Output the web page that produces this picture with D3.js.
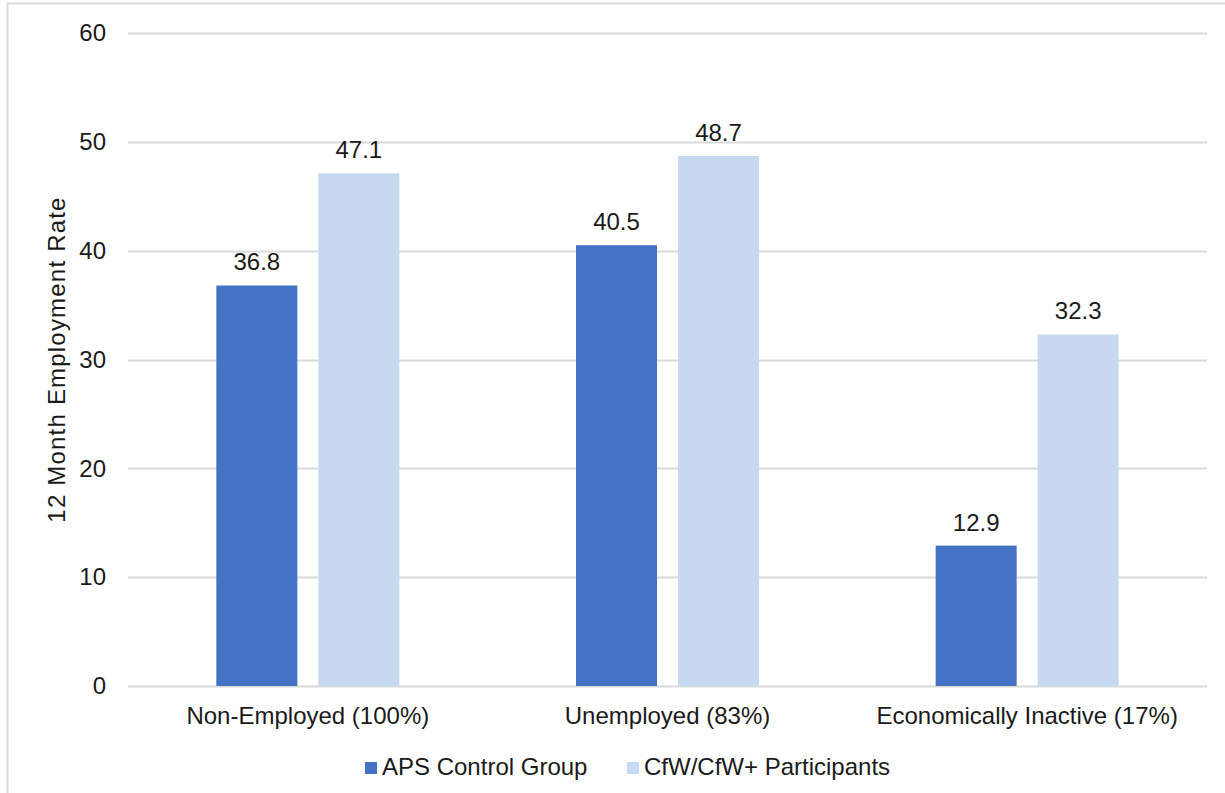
<!DOCTYPE html>
<html>
<head>
<meta charset="utf-8">
<script src="https://cdn.jsdelivr.net/npm/d3@7"></script>
<style>
    body { margin: 0; background: #fff; }
    svg { display: block; font-family: "Liberation Sans", Arial, sans-serif; }
    .tick text, .barLabel, .catLabel, .legendLabel, .axisTitle { fill: #1a1a1a; }
</style>
</head>
<body>
<div id="chart"></div>
<script>
// chart data
var categories = ["Non-Employed (100%)", "Unemployed (83%)", "Economically Inactive (17%)"];
var seriesNames = ["APS Control Group", "CfW/CfW+ Participants"];
var controlValues = [36.8, 40.5, 12.9];
var participantValues = [47.1, 48.7, 32.3];
var yTicks = [0, 10, 20, 30, 40, 50, 60];
var seriesColors = ["#4472C4", "#C6D9F0"];

var width = 1225;
var height = 793;
var margin = {top: 33, right: 18, bottom: 107, left: 128};
var fontSize = 24;

var svg = d3.select("#chart").append("svg")
    .attr("width", width)
    .attr("height", height);

// outer frame (cut off at the right and bottom in the reference)
svg.append("rect")
    .attr("x", 7.5)
    .attr("y", 3.5)
    .attr("width", width + 20)
    .attr("height", height + 20)
    .attr("fill", "none")
    .attr("stroke", "#d9d9d9")
    .attr("stroke-width", 2);

var xScale = d3.scaleBand()
    .domain(categories)
    .range([margin.left, width - margin.right])
    .paddingInner(0)
    .paddingOuter(0);

// inner band for the two series inside each category
var innerScale = d3.scaleBand()
    .domain(seriesNames)
    .range([0, xScale.bandwidth()])
    .paddingInner(0.206)
    .paddingOuter(0.866);

var yScale = d3.scaleLinear()
    .domain([0, 60])
    .range([height - margin.bottom, margin.top]);

// horizontal grid lines
svg.selectAll("line.grid").data(yTicks).enter()
    .append("line")
    .attr("class", "grid")
    .attr("x1", margin.left)
    .attr("x2", width - margin.right)
    .attr("y1", function(d) { return Math.round(yScale(d)) + 0.5; })
    .attr("y2", function(d) { return Math.round(yScale(d)) + 0.5; })
    .attr("stroke", "#d9d9d9")
    .attr("stroke-width", 2);

// y axis tick labels
var yAxis = svg.append("g")
    .attr("transform", `translate(${margin.left}, 0)`)
    .call(d3.axisLeft(yScale).tickValues(yTicks).tickSize(0).tickPadding(22));
yAxis.select(".domain").remove();
yAxis.selectAll("text").attr("font-size", fontSize).attr("font-family", "Liberation Sans, Arial, sans-serif");

// y axis title
svg.append("text")
    .attr("class", "axisTitle")
    .attr("transform", `translate(65, ${(yScale(0) + yScale(60)) / 2}) rotate(-90)`)
    .attr("text-anchor", "middle")
    .attr("font-size", fontSize)
    .attr("letter-spacing", 1.2)
    .text("12 Month Employment Rate");

// build rows for the bars
var rows = [];
categories.forEach(function(cat, i) {
    rows.push({cat: cat, series: seriesNames[0], value: controlValues[i], color: seriesColors[0]});
    rows.push({cat: cat, series: seriesNames[1], value: participantValues[i], color: seriesColors[1]});
});

svg.selectAll("rect.bar").data(rows).enter()
    .append("rect")
    .attr("class", "bar")
    .attr("x", function(d) { return xScale(d.cat) + innerScale(d.series); })
    .attr("y", function(d) { return yScale(d.value); })
    .attr("width", innerScale.bandwidth())
    .attr("height", function(d) { return yScale(0) - yScale(d.value); })
    .attr("fill", function(d) { return d.color; });

// value labels above bars
svg.selectAll("text.barLabel").data(rows).enter()
    .append("text")
    .attr("class", "barLabel")
    .attr("x", function(d) { return xScale(d.cat) + innerScale(d.series) + innerScale.bandwidth() / 2; })
    .attr("y", function(d) { return yScale(d.value) - 15; })
    .attr("text-anchor", "middle")
    .attr("font-size", fontSize)
    .text(function(d) { return d.value.toFixed(1); });

// category labels
svg.selectAll("text.catLabel").data(categories).enter()
    .append("text")
    .attr("class", "catLabel")
    .attr("x", function(d) { return xScale(d) + xScale.bandwidth() / 2; })
    .attr("y", yScale(0) + 38)
    .attr("text-anchor", "middle")
    .attr("font-size", fontSize)
    .text(function(d) { return d; });

// legend
var legendX = [365, 627];
var legend = svg.selectAll("g.legend").data(seriesNames).enter()
    .append("g")
    .attr("class", "legend")
    .attr("transform", function(d, i) { return `translate(${legendX[i]}, 767)`; });
legend.append("rect")
    .attr("x", 0)
    .attr("y", -5)
    .attr("width", 12)
    .attr("height", 12)
    .attr("fill", function(d, i) { return seriesColors[i]; });
legend.append("text")
    .attr("class", "legendLabel")
    .attr("x", 17)
    .attr("y", 8)
    .attr("font-size", fontSize)
    .text(function(d) { return d; });
</script>
</body>
</html>
